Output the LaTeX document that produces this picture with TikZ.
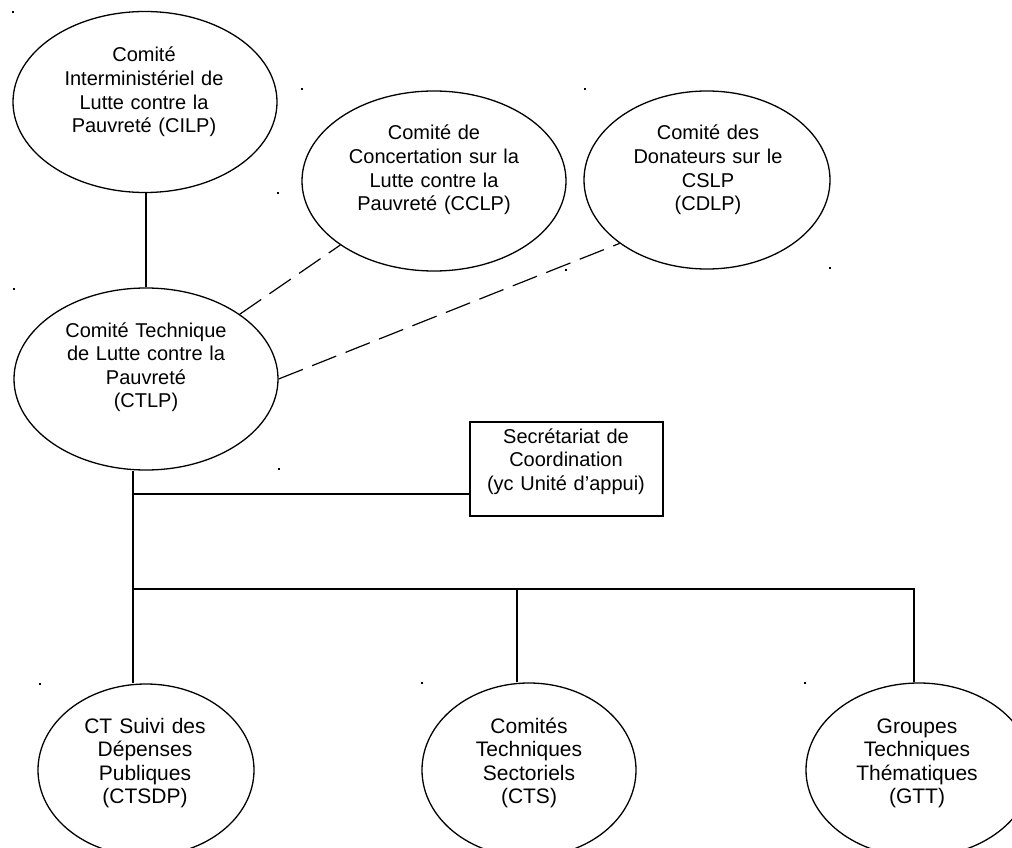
\documentclass[tikz,border=0pt]{standalone}
\usepackage{fontspec}
\setmainfont{Liberation Sans}
\usetikzlibrary{shapes.geometric}
\begin{document}
\begin{tikzpicture}[x=1pt,y=-1pt,
  oval/.style={draw=black,line width=1.3pt,ellipse,inner sep=0pt},
  boite/.style={draw=black,line width=1.3pt,rectangle,inner sep=0pt},
  lbl/.style={text width=260pt,align=center,anchor=base,inner sep=0pt,
              font=\fontsize{20}{23.6}\selectfont},
  lblb/.style={lbl,font=\fontsize{21}{23.6}\selectfont},
  link/.style={draw=black,line width=1.2pt},
  dlink/.style={draw=black,line width=1.2pt,dash pattern=on 26pt off 10pt},
  speck/.style={fill=black}]
\useasboundingbox (0,0) rectangle (1012,848);
\clip (0,0) rectangle (1012,848);
\fill[white] (0,0) rectangle (1012,848);

% ellipses
\node[oval,minimum width=264pt,minimum height=181pt] (cilp) at (145,102) {};
\node[oval,minimum width=264pt,minimum height=180pt] (cclp) at (434,181) {};
\node[oval,minimum width=246pt,minimum height=178pt] (cdlp) at (707,180) {};
\node[oval,minimum width=264pt,minimum height=182pt] (ctlp) at (146,379) {};
\node[boite,minimum width=193pt,minimum height=94pt] (sec) at (566.5,469) {};
\node[oval,minimum width=216pt,minimum height=172pt] (ctsdp) at (146,770) {};
\node[oval,minimum width=214pt,minimum height=174pt] (cts) at (529,770) {};
\node[oval,minimum width=226pt,minimum height=174pt] (gtt) at (919,770) {};

% texts
\node[lbl] (cilpT) at (144,62) {Comité\\Interministériel de\\Lutte contre la\\Pauvreté (CILP)};
\node[lbl] (cclpT) at (434,140) {Comité de\\Concertation sur la\\Lutte contre la\\Pauvreté (CCLP)};
\node[lbl] (cdlpT) at (708,140) {Comité des\\Donateurs sur le\\CSLP\\(CDLP)};
\node[lbl] (ctlpT) at (146,337) {Comité Technique\\de Lutte contre la\\Pauvreté\\(CTLP)};
\node[lbl] (secT) at (566,443) {Secrétariat de\\Coordination\\(yc Unité d’appui)};
\node[lblb] (ctsdpT) at (145,733) {CT Suivi des\\Dépenses\\Publiques\\(CTSDP)};
\node[lblb] (ctsT) at (529,733) {Comités\\Techniques\\Sectoriels\\(CTS)};
\node[lblb] (gttT) at (917,733) {Groupes\\Techniques\\Thématiques\\(GTT)};

% connector coordinates
\coordinate (t1) at (133,494);
\coordinate (t2) at (133,589);
\coordinate (b2) at (517,589);
\coordinate (b3) at (914,589);

% connectors
\draw[link] (cilp.south -| ctlp.north) -- (ctlp.north);
\draw[dlink] (ctlp.north east) -- (cclp.south west);
\draw[dlink] (ctlp.east) -- (cdlp.south west);
\draw[link] (t1 |- ctlp.south) -- (t1 |- ctsdp.north);
\draw[link] (t1) -- (t1 -| sec.west);
\draw[link,line join=miter] (t2) -- (b3) -- (b3 |- gtt.north);
\draw[link] (b2) -- (b2 |- cts.north);

% small specks
\foreach \p/\q in {13/12,302/89,585/89,278/193,566/270,830/268,14/289,279/469,40/684,422/683,805/683}
  \fill[speck] (\p-1,\q-1) rectangle (\p+1,\q+1);
\end{tikzpicture}
\end{document}
